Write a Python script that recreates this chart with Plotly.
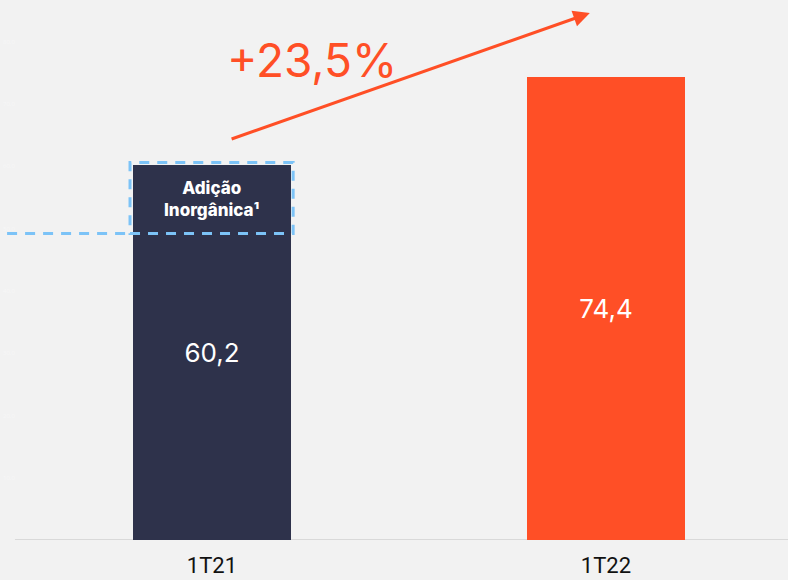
import plotly.graph_objects as go

categories = ["1T21", "1T22"]
values = [60.2, 74.4]
value_labels = ["60,2", "74,4"]
bar_colors = ["#2e324b", "#ff4f26"]
organic_level = 49.2
growth_label = "+23,5%"
inorganic_label = "Adição<br>Inorgânica¹"
y_ticks = [0, 10, 20, 30, 40, 50, 60, 70, 80]

BG = "#f2f2f2"
ORANGE = "#ff4f26"
BLUE = "#7cc3f7"

fig = go.Figure()
fig.add_trace(go.Bar(
    x=[0, 1], y=values, width=0.4,
    marker=dict(color=bar_colors, line=dict(width=0)),
    text=value_labels, textposition="inside", insidetextanchor="middle",
    textfont=dict(family="Inter", size=26, color="white"),
    hoverinfo="skip",
))

# baseline
fig.add_shape(type="line", x0=-0.5, x1=1.47, y0=0, y1=0,
              line=dict(color="#d9d9d9", width=2), layer="below")
# dashed inorganic box
fig.add_shape(type="rect", x0=-0.208, x1=0.206, y0=organic_level, y1=60.6,
              line=dict(color=BLUE, width=3, dash="10px,8px"))
fig.add_shape(type="line", x0=-0.52, x1=-0.208, y0=organic_level, y1=organic_level,
              line=dict(color=BLUE, width=3, dash="10px,8px"))

fig.add_annotation(x=0, y=(organic_level + 60.4) / 2, text=inorganic_label,
                   showarrow=False, font=dict(family="Inter", size=17, color="white", weight=800),
                   align="center")

# growth arrow
fig.add_annotation(x=0.959, y=84.6, ax=0.046, ay=64.3, axref="x", ayref="y",
                   xref="x", yref="y", text="", showarrow=True,
                   arrowhead=2, arrowsize=1.1, arrowwidth=3, arrowcolor=ORANGE, standoff=0)
fig.add_annotation(x=0.254, y=77.0, text=growth_label, showarrow=False,
                   font=dict(family="Inter", size=46, color=ORANGE))

fig.update_layout(
    width=788, height=580,
    margin=dict(l=0, r=0, t=0, b=40),
    paper_bgcolor=BG, plot_bgcolor=BG,
    showlegend=False, bargap=0,
    xaxis=dict(range=[-0.538, 1.462], tickmode="array", tickvals=[0, 1], ticktext=categories,
               showgrid=False, zeroline=False, showline=False, automargin=False,
               ticks="outside", ticklen=6, tickcolor=BG,
               tickfont=dict(family="Liberation Sans Narrow, Roboto", size=22, color="#111111"),
               fixedrange=True),
    yaxis=dict(range=[0, 86.7], tickvals=y_ticks, ticktext=[f"{v},0" for v in y_ticks],
               showgrid=False, zeroline=False, showline=False, automargin=False,
               ticklabelposition="inside", tickfont=dict(size=6, color="#f7f7f7"),
               fixedrange=True),
)

fig.write_html("out.html", config={"displayModeBar": False},
               post_script="document.body.style.margin='0';document.body.style.background='%s';" % BG)
